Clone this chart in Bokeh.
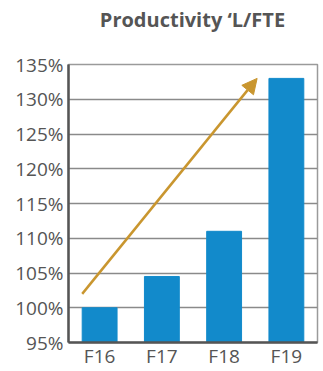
from bokeh.plotting import figure
from bokeh.models import FixedTicker, PrintfTickFormatter, Arrow, NormalHead, ColumnDataSource, Range1d, Div
from bokeh.layouts import column
from bokeh.embed import file_html
from bokeh.resources import INLINE

title = "Productivity \u2018L/FTE"
categories = ["F16", "F17", "F18", "F19"]
values = [100, 104.5, 111, 133]
y_ticks = [95, 100, 105, 110, 115, 120, 125, 130, 135]
arrow_start_value = 102
arrow_end_value = 133
arrow_start_cat = 0.22
arrow_end_cat = 3.03

FONT = "Open Sans"
GRAY = "#555555"

x_pos = [i + 0.5 for i in range(len(categories))]
src = ColumnDataSource(dict(x=x_pos, top=values))

p = figure(width=323, height=331, output_backend="svg", toolbar_location=None,
           x_range=Range1d(0, len(categories)), y_range=Range1d(95, 135),
           min_border_left=68, min_border_right=6, min_border_top=24, min_border_bottom=28)

p.vbar(x="x", top="top", bottom=95, width=0.56, source=src, color="#128ACB")

p.add_layout(Arrow(end=NormalHead(size=15, fill_color="#C9962F", line_color="#C9962F"),
                   x_start=arrow_start_cat, y_start=arrow_start_value,
                   x_end=arrow_end_cat, y_end=arrow_end_value,
                   line_color="#C9962F", line_width=2.5))

head = Div(text=title, width=249, height=40, margin=(0, 0, 0, 68),
           styles={"text-align": "center", "font-family": FONT, "font-size": "20px",
                   "font-weight": "bold", "color": GRAY, "line-height": "40px",
                   "width": "249px"})

p.xaxis.ticker = FixedTicker(ticks=x_pos)
p.xaxis.major_label_overrides = {x: c for x, c in zip(x_pos, categories)}
p.yaxis.ticker = FixedTicker(ticks=y_ticks)
p.yaxis.formatter = PrintfTickFormatter(format="%d%%")

for ax in (p.xaxis, p.yaxis):
    ax.axis_line_color = GRAY
    ax.axis_line_width = 2.5
    ax.major_tick_line_color = None
    ax.minor_tick_line_color = None
    ax.major_tick_out = 0
    ax.major_tick_in = 0
    ax.minor_tick_out = 0
    ax.minor_tick_in = 0
    ax.major_label_text_font = FONT
    ax.major_label_text_font_size = "19px"
    ax.major_label_text_color = GRAY
p.yaxis.major_label_standoff = 5
p.xaxis.major_label_standoff = 0

p.xgrid.grid_line_color = None
p.ygrid.grid_line_color = "#8a8a8a"
p.ygrid.grid_line_width = 1.5
p.outline_line_color = "#9a9a9a"
p.outline_line_width = 1.5
p.background_fill_color = "white"
p.border_fill_color = "white"

layout = column(head, p, spacing=0)
open("out.html", "w").write(file_html(layout, INLINE))
